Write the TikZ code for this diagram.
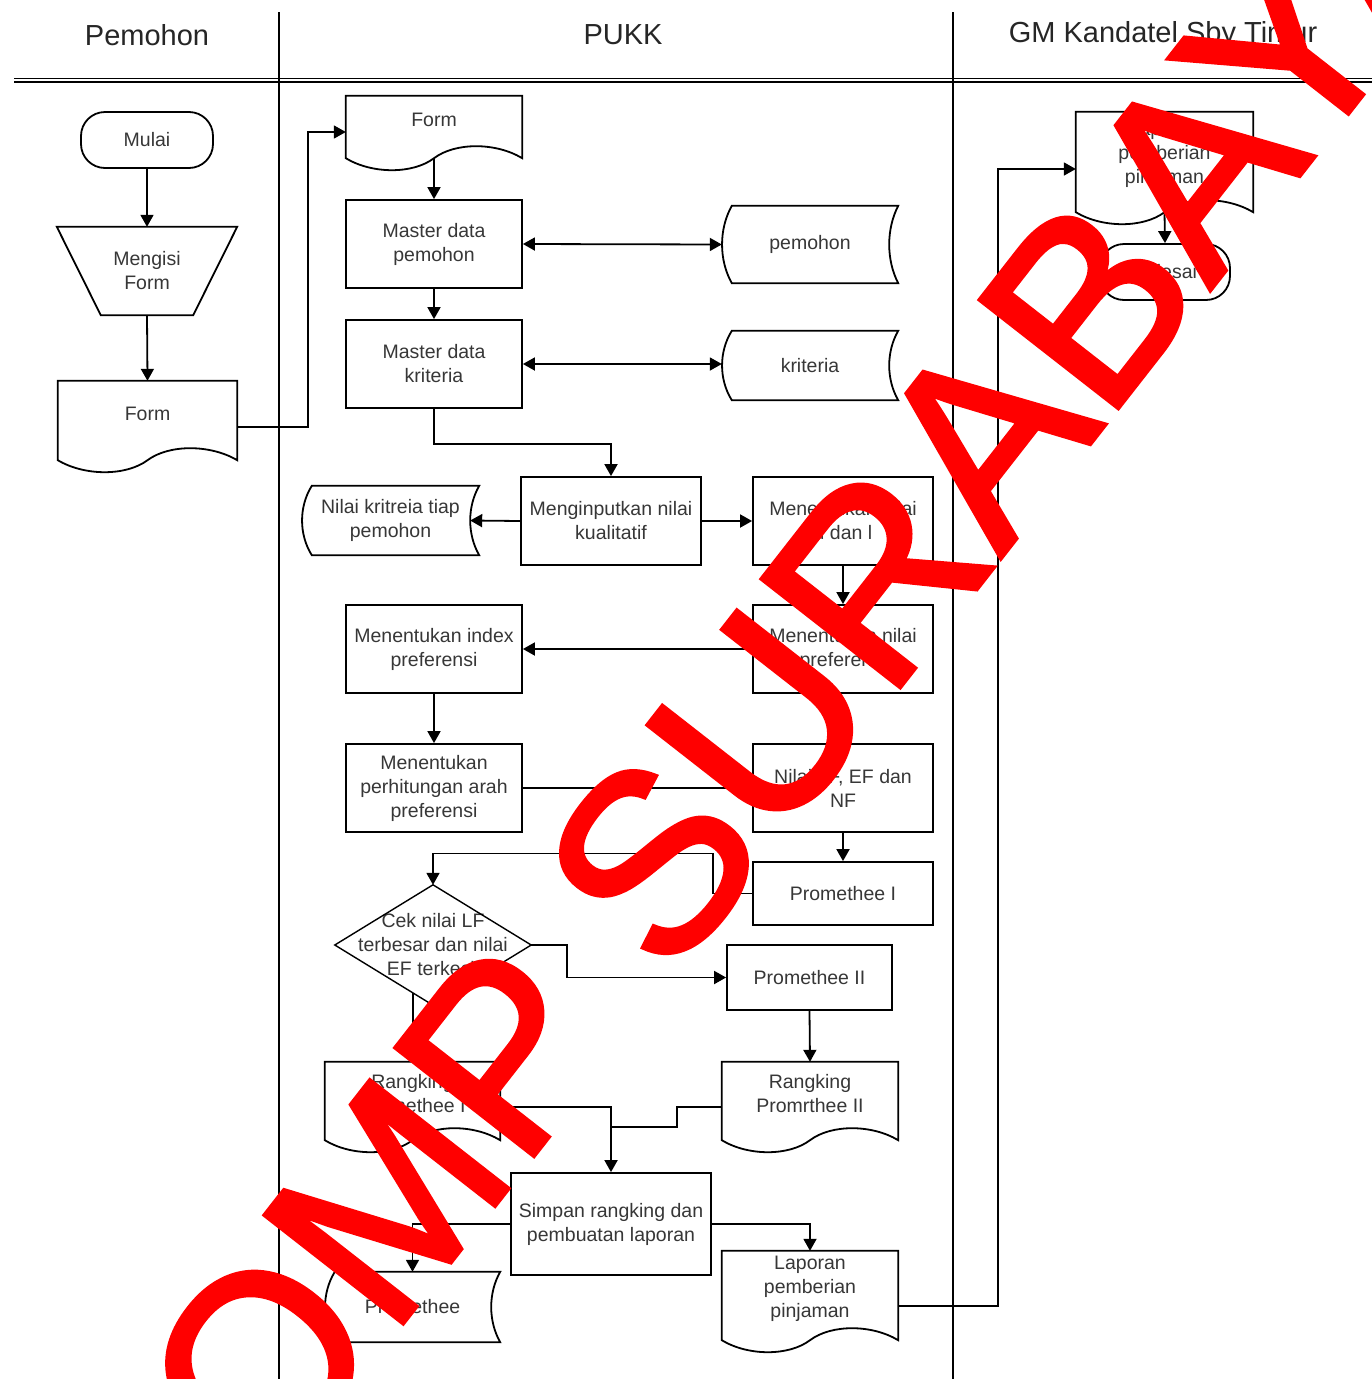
\documentclass[tikz,border=0pt]{standalone}
\usepackage{fontspec}
\setmainfont{Liberation Sans}
\newfontfamily\wmfont[FakeBold=1.8]{Liberation Sans}
\usetikzlibrary{calc,arrows.meta}
\definecolor{txt}{RGB}{55,55,55}
\definecolor{wmred}{RGB}{255,0,0}
\newcommand{\docshape}[1]{\draw[shp] ($(#1.south west)+(0,14)$) -- (#1.north west) -- (#1.north east) -- ($(#1.south east)+(0,14)$) .. controls ($(#1.south west)!0.85!(#1.south east)+(0,-2)$) and ($(#1.south west)!0.62!(#1.south east)+(0,-2)$) .. ($(#1.south west)!0.5!(#1.south east)+(0,14)$) .. controls ($(#1.south west)!0.38!(#1.south east)+(0,30)$) and ($(#1.south west)!0.15!(#1.south east)+(0,30)$) .. ($(#1.south west)+(0,14)$) -- cycle;}
\newcommand{\storeshape}[1]{\draw[shp] ($(#1.north west)+(10,0)$) -- (#1.north east) .. controls ($(#1.north east)!0.3!(#1.south east)+(-12,0)$) and ($(#1.north east)!0.7!(#1.south east)+(-12,0)$) .. (#1.south east) -- ($(#1.south west)+(10,0)$) .. controls ($(#1.south west)!0.3!(#1.north west)+(-3,0)$) and ($(#1.south west)!0.7!(#1.north west)+(-3,0)$) .. ($(#1.north west)+(10,0)$) -- cycle;}
\begin{document}
\begin{tikzpicture}[x=1pt,y=-1pt,
  shp/.style={draw=black,line width=1.8pt,line join=miter},
  ln/.style={draw=black,line width=1.8pt},
  arr/.style={ln,-{Triangle[length=12pt,width=13pt]}},
  darr/.style={ln,{Triangle[length=12pt,width=13pt]}-{Triangle[length=12pt,width=13pt]}},
  nd/.style={inner sep=1pt,align=center,text=txt,font=\fontsize{19.5}{24}\selectfont},
  box/.style={nd,draw=black,line width=1.8pt},
  term/.style={box,rounded corners=24pt},
  hdr/.style={inner sep=0pt,text=black!85,font=\fontsize{29}{34}\selectfont},
  lane/.style={draw=black,line width=1.6pt}]
\useasboundingbox (0,0) rectangle (1372,1379);
\fill[white] (0,0) rectangle (1372,1379);

% lanes and headers
\draw[lane] (279,12) -- (279,1379);
\draw[lane] (953,12) -- (953,1379);
\draw[lane] (14,78.5) -- (1372,78.5);
\draw[lane] (14,82) -- (1372,82);
\node[hdr] (h1) at (147,35) {Pemohon};
\node[hdr] (h2) at (623,35) {PUKK};
\node[hdr] (h3) at (1163,35) {GM Kandatel Sby Timur};

% Pemohon lane
\node[term,minimum width=132,minimum height=56] (mulai) at (147,140) {Mulai};
\node[nd,minimum width=180,minimum height=88] (mengisi) at (147,271) {Mengisi\\Form};
\draw[shp] (mengisi.north west) -- (mengisi.north east) -- ($(mengisi.south east)+(-44,0)$) -- ($(mengisi.south west)+(44,0)$) -- cycle;
\node[nd,minimum width=179,minimum height=65] (form1) at (147.5,413.5) {Form};
\docshape{form1}

% PUKK lane
\node[nd,minimum width=176,minimum height=48] (form2) at (434,120) {Form};
\docshape{form2}
\node[box,minimum width=176,minimum height=88] (mdp) at (434,244) {Master data\\pemohon};
\node[box,minimum width=176,minimum height=88] (mdk) at (434,364) {Master data\\kriteria};
\node[nd,minimum width=176,minimum height=77] (spem) at (810,244.5) {pemohon};
\storeshape{spem}
\node[nd,minimum width=176,minimum height=69] (skri) at (810,365.5) {kriteria};
\storeshape{skri}
\node[box,minimum width=180,minimum height=88] (minput) at (611,521) {Menginputkan nilai\\kualitatif};
\node[nd,minimum width=177,minimum height=69] (snilai) at (390.5,520.5) {Nilai kritreia tiap\\pemohon};
\storeshape{snilai}
\node[box,minimum width=180,minimum height=88] (mnul) at (843,521) {Menentukan nilai\\u dan l};
\node[box,minimum width=180,minimum height=88] (mpref) at (843,649) {Menentukan nilai\\preferensi};
\node[box,minimum width=176,minimum height=88] (mindex) at (434,649) {Menentukan index\\preferensi};
\node[box,minimum width=176,minimum height=88] (marah) at (434,788) {Menentukan\\perhitungan arah\\preferensi};
\node[box,minimum width=180,minimum height=88] (nlf) at (843,788) {Nilai LF, EF dan\\NF};
\node[box,minimum width=180,minimum height=63] (p1) at (843,893.5) {Promethee I};
\node[nd,minimum width=196,minimum height=120] (dia) at (433,945) {Cek nilai LF\\terbesar dan nilai\\EF terkecil};
\draw[shp,line width=1.4pt] (dia.north) -- (dia.east) -- (dia.south) -- (dia.west) -- cycle;
\coordinate (dpt) at ($(dia.west)!0.8!(dia.south)$);
\node[box,minimum width=165,minimum height=65] (p2) at (809.5,977.5) {Promethee II};
\node[nd,minimum width=175,minimum height=64] (rp1) at (412.5,1094) {Rangking\\Promethee I};
\docshape{rp1}
\node[nd,minimum width=176,minimum height=64] (rp2) at (810,1094) {Rangking\\Promrthee II};
\docshape{rp2}
\node[box,minimum width=200,minimum height=102] (simpan) at (611,1224) {Simpan rangking dan\\pembuatan laporan};
\node[nd,minimum width=176,minimum height=75] (lap) at (810,1288.5) {Laporan\\pemberian\\pinjaman};
\docshape{lap}
\node[nd,minimum width=175,minimum height=70] (sprom) at (412.5,1307) {Promethee};
\storeshape{sprom}

% GM lane
\node[nd,minimum width=177,minimum height=86] (lapgm) at (1164.5,155) {Laporan\\pemberian\\pinjaman};
\docshape{lapgm}
\node[term,minimum width=130,minimum height=56] (selesai) at (1165,272) {Selesai};

% connectors
\draw[arr] (mulai.south) -- (mengisi.north);
\draw[arr] (mengisi.south) -- (form1.north);
\draw[arr] ([yshift=-13.5pt]form1.east) -- ++(71,0) |- ([yshift=-12pt]form2.west);
\draw[arr] ([yshift=-14pt]form2.south) -- (mdp.north);
\draw[darr] (mdp.east) -- (spem.west);
\draw[arr] (mdp.south) -- (mdk.north);
\draw[darr] (mdk.east) -- (mdk.east -| skri.west);
\draw[arr] (mdk.south) -- ++(0,35) -| (minput.north);
\draw[arr] (minput.west) -- ($(snilai.east)+(-9,0)$);
\draw[arr] (minput.east) -- (mnul.west);
\draw[arr] (mnul.south) -- (mpref.north);
\draw[arr] (mpref.west) -- (mindex.east);
\draw[arr] (mindex.south) -- (marah.north);
\draw[arr] (marah.east) -- (nlf.west);
\draw[arr] (nlf.south) -- (p1.north);
\draw[arr] (p1.west) -- ++(-39,0) -- ++(0,-40) -| (dia.north);
\draw[arr] (dia.east) -- ++(36,0) |- (p2.west);
\draw[arr] (p2.south) -- (rp2.north);
\draw[arr] (dpt) -- (dpt |- rp1.north);
\draw[arr] ([yshift=-13pt]rp1.east) -| (simpan.north);
\draw[ln] ([yshift=-13pt]rp2.west) -- ++(-45,0) |- ($(simpan.north)+(0,-45)$);
\draw[arr] (simpan.east) -| (lap.north);
\draw[arr] (simpan.west) -| (sprom.north);
\draw[arr] ([yshift=-17.5pt]lap.east) -- ++(100,0) |- ([yshift=-14pt]lapgm.west);
\draw[arr] ([yshift=-14pt]lapgm.south) -- (selesai.north);

% watermark
\node[rotate=52,anchor=base west,text=wmred,inner sep=0pt,font=\wmfont\fontsize{255}{255}\selectfont] (wm) at (268,1496) {OMP SURABAYA};
\end{tikzpicture}
\end{document}
